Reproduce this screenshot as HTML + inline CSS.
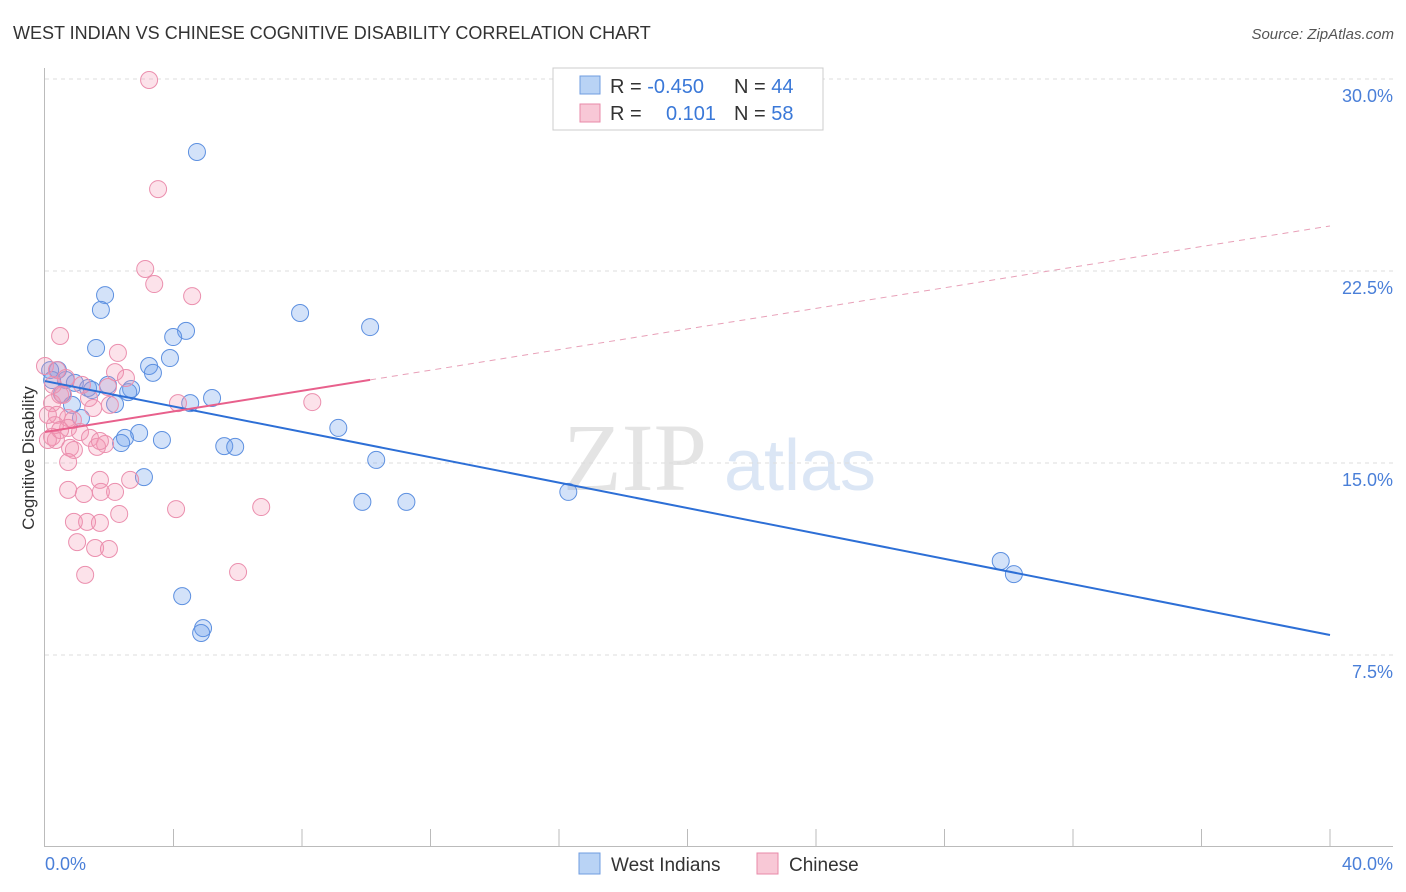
<!DOCTYPE html>
<html><head><meta charset="utf-8"><style>
body{margin:0;background:#fff;font-family:"Liberation Sans",sans-serif;}
svg{display:block}
</style></head><body>
<svg width="1406" height="892" xmlns="http://www.w3.org/2000/svg">
<text x="13" y="39" font-size="18" fill="#333">WEST INDIAN VS CHINESE COGNITIVE DISABILITY CORRELATION CHART</text>
<text x="1394" y="39" font-size="15" fill="#555" font-style="italic" text-anchor="end">Source: ZipAtlas.com</text>
<g>
<text x="635" y="490" font-size="96" font-family="Liberation Serif,serif" fill="#e4e4e4" text-anchor="middle">ZIP</text>
<text x="800" y="490" font-size="72" fill="#dbe6f5" text-anchor="middle">atlas</text>
</g>
<g id="grid"></g>
<g id="axes"></g>
<g id="pts"></g>
<g id="lines"></g>
<text x="34" y="458" font-size="17" fill="#333" text-anchor="middle" transform="rotate(-90 34 458)">Cognitive Disability</text>
<text x="45" y="870" font-size="18" fill="#4a7fd8">0.0%</text>
<text x="1393" y="870" font-size="18" fill="#4a7fd8" text-anchor="end">40.0%</text>
<g>
<rect x="553" y="68" width="270" height="62" fill="#fff" stroke="#ccc"/>
<rect x="580" y="76" width="20" height="18" fill="#b9d3f5" stroke="#6f9de0"/>
<rect x="580" y="104" width="20" height="18" fill="#f8c8d6" stroke="#e88aa8"/>
<text x="610" y="93" font-size="20" fill="#333">R = <tspan fill="#3a78d8">-0.450</tspan><tspan x="734">N = </tspan><tspan fill="#3a78d8">44</tspan></text>
<text x="610" y="120" font-size="20" fill="#333">R = <tspan fill="#3a78d8" x="666">0.101</tspan><tspan x="734">N = </tspan><tspan fill="#3a78d8">58</tspan></text>
</g>
<g>
<rect x="579" y="853" width="21" height="21" fill="#b9d3f5" stroke="#6f9de0"/>
<text x="611" y="871" font-size="19" fill="#333">West Indians</text>
<rect x="757" y="853" width="21" height="21" fill="#f8c8d6" stroke="#e88aa8"/>
<text x="789" y="871" font-size="19" fill="#333">Chinese</text>
</g>
</svg>
<script>
const yTicks=[7.5,15,22.5,30];
const yTickLabels=["7.5%","15.0%","22.5%","30.0%"];
const xTicks=[4,8,12,16,20,24,28,32,36,40];
const blueX=[4.73,1.87,1.74,7.94,10.12,4.39,3.99,1.59,3.89,3.24,3.36,0.40,0.16,0.65,0.93,1.96,1.34,1.46,2.68,2.59,0.53,5.20,4.52,2.18,0.84,1.12,2.93,2.49,2.37,3.64,5.58,5.92,9.13,10.31,3.08,9.88,11.25,16.29,29.75,30.16,4.27,4.92,4.86,0.22];
const blueY=[27.15,21.56,20.98,20.86,20.31,20.16,19.92,19.49,19.10,18.79,18.52,18.63,18.63,18.24,18.13,18.05,17.93,17.85,17.89,17.77,17.70,17.54,17.34,17.30,17.27,16.76,16.17,15.98,15.78,15.90,15.66,15.63,16.37,15.12,14.45,13.48,13.48,13.87,11.17,10.66,9.80,8.55,8.36,18.24];
const pinkX=[3.24,3.52,3.12,3.40,4.58,0.47,2.27,0.00,0.37,2.18,2.52,0.65,1.96,0.47,0.22,1.37,1.50,2.02,4.14,8.32,0.37,0.72,0.31,0.87,0.72,1.09,0.22,0.34,1.40,1.87,1.62,0.78,0.90,1.71,0.72,0.72,1.21,2.65,1.71,2.18,1.74,0.90,1.31,1.71,2.31,4.08,6.73,1.00,1.56,1.99,1.25,6.01,0.09,0.09,0.56,1.15,0.25,0.47];
const pinkY=[29.96,25.70,22.58,21.99,21.52,19.96,19.30,18.79,18.63,18.55,18.32,18.32,17.97,17.66,17.34,17.54,17.15,17.27,17.34,17.38,16.88,16.76,16.48,16.68,16.37,16.21,16.02,15.90,15.98,15.74,15.63,15.59,15.51,15.86,15.04,13.95,13.79,14.34,14.34,13.87,13.87,12.70,12.70,12.66,13.01,13.20,13.28,11.91,11.68,11.64,10.63,10.74,15.90,16.88,17.66,18.05,18.05,16.29];
const blueTrend=[18.20,8.28];
const pinkTrend=[16.21,24.26];
const pinkSolidEnd=10.12;
const NS="http://www.w3.org/2000/svg";
const xs=v=>45+v*32.125, ys=v=>847-v*25.6;
function mk(t,a,p){const e=document.createElementNS(NS,t);for(const k in a)e.setAttribute(k,a[k]);document.getElementById(p).appendChild(e);return e;}
yTicks.forEach((t,i)=>{
 const g=mk('line',{x1:45,x2:1393,y1:ys(t),y2:ys(t),stroke:'#ddd','stroke-dasharray':'4,4'},'grid');
 
 
 const l=mk('text',{x:1393,y:ys(t)+23,'font-size':18,fill:'#4a7fd8','text-anchor':'end'},'grid');
 l.textContent=yTickLabels[i];
 
 
});
let a=mk('line',{x1:44.5,x2:44.5,y1:68,y2:847,stroke:'#bbb'},'axes');


a=mk('line',{x1:45,x2:1393,y1:846.5,y2:846.5,stroke:'#bbb'},'axes');


xTicks.forEach(t=>{
 const e=mk('line',{x1:xs(t),x2:xs(t),y1:829,y2:847,stroke:'#bbb'},'axes');
 
 
});
blueX.forEach((x,i)=>{
 const c=mk('circle',{cx:xs(x),cy:ys(blueY[i]),r:8.5,fill:'rgba(110,160,235,0.3)',stroke:'#5d90e0','stroke-width':1},'pts');
 
 
});
pinkX.forEach((x,i)=>{
 const c=mk('circle',{cx:xs(x),cy:ys(pinkY[i]),r:8.5,fill:'rgba(245,150,180,0.28)',stroke:'#eb8fae','stroke-width':1},'pts');
 
 
});
let t=mk('line',{x1:xs(0),y1:ys(blueTrend[0]),x2:xs(40),y2:ys(blueTrend[1]),stroke:'#2d6fd6','stroke-width':2},'lines');


const pe=pinkTrend[0]+(pinkTrend[1]-pinkTrend[0])*pinkSolidEnd/40;
t=mk('line',{x1:xs(0),y1:ys(pinkTrend[0]),x2:xs(pinkSolidEnd),y2:ys(pe),stroke:'#e8608c','stroke-width':2},'lines');


t=mk('line',{x1:xs(pinkSolidEnd),y1:ys(pe),x2:xs(40),y2:ys(pinkTrend[1]),stroke:'#e8a0b8','stroke-width':1,'stroke-dasharray':'6,5'},'lines');


</script>
</body></html>
